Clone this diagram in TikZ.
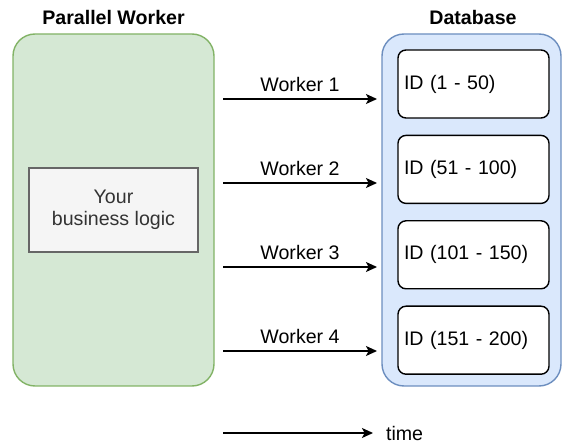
\documentclass[tikz,border=0pt]{standalone}
\usepackage{fontspec}
\setmainfont{Liberation Sans}
\usepackage{tikz}
\usepackage{xcolor}
\usetikzlibrary{arrows.meta, positioning}
\definecolor{workerfill}{HTML}{D5E8D4}
\definecolor{workerline}{HTML}{82B366}
\definecolor{dbfill}{HTML}{DAE8FC}
\definecolor{dbline}{HTML}{6C8EBF}
\definecolor{logicfill}{HTML}{F5F5F5}
\definecolor{logicline}{HTML}{666666}
\definecolor{logictext}{HTML}{333333}

\begin{document}
\begin{tikzpicture}[
		x=0.5pt, y=-0.5pt,
		font=\fontsize{9.8}{11}\selectfont,
		node distance=8pt,
		container/.style={rounded corners=11pt, line width=0.7pt,
			minimum height=176pt, inner sep=0pt},
		logicbox/.style={draw=logicline, fill=logicfill, text=logictext, line width=0.6pt,
			minimum width=84.5pt, minimum height=42pt, align=center},
		idbox/.style={draw, fill=white, rounded corners=4pt, line width=0.7pt,
			minimum height=34pt, inner xsep=3pt, text width=69.5pt, align=left},
		title/.style={font=\fontsize{9.8}{11}\selectfont\bfseries},
		arrow/.style={-{Stealth[length=5.5pt, width=5pt, inset=1.3pt]}, line width=0.65pt},
		wlabel/.style={above, midway}
	]
		\useasboundingbox (0,0) rectangle (564,444);
		\node[container, draw=workerline, fill=workerfill, minimum width=100.5pt] (worker) at (113.5,210) {};
		\node[container, draw=dbline, fill=dbfill, minimum width=89.5pt] (db) at (471.5,210) {};
		\node[title] (workertitle) at (113.5,17) {Parallel Worker};
		\node[title] (dbtitle) at (473,17) {Database};
		\node[logicbox] (logic) at (113.5,210) {Your\\business logic};
		\node[idbox] (id1) at (473.5,84) {ID (1 - 50)};
		\node[idbox, below=of id1] (id2) {ID (51 - 100)};
		\node[idbox, below=of id2] (id3) {ID (101 - 150)};
		\node[idbox, below=of id3] (id4) {ID (151 - 200)};
		\coordinate (s1) at (223,99);  \coordinate (e1) at (377,99);
		\coordinate (s2) at (223,183); \coordinate (e2) at (377,183);
		\coordinate (s3) at (223,267); \coordinate (e3) at (377,267);
		\coordinate (s4) at (223,351); \coordinate (e4) at (377,351);
		\coordinate (t0) at (223,433); \coordinate (t1) at (373,433);
		\draw[arrow] (s1) -- node[wlabel] (w1) {Worker 1} (e1);
		\draw[arrow] (s2) -- node[wlabel] (w2) {Worker 2} (e2);
		\draw[arrow] (s3) -- node[wlabel] (w3) {Worker 3} (e3);
		\draw[arrow] (s4) -- node[wlabel] (w4) {Worker 4} (e4);
		\draw[arrow] (t0) -- (t1);
		\node[right=3pt of t1] (timelabel) {time};
	\end{tikzpicture}
\end{document}
